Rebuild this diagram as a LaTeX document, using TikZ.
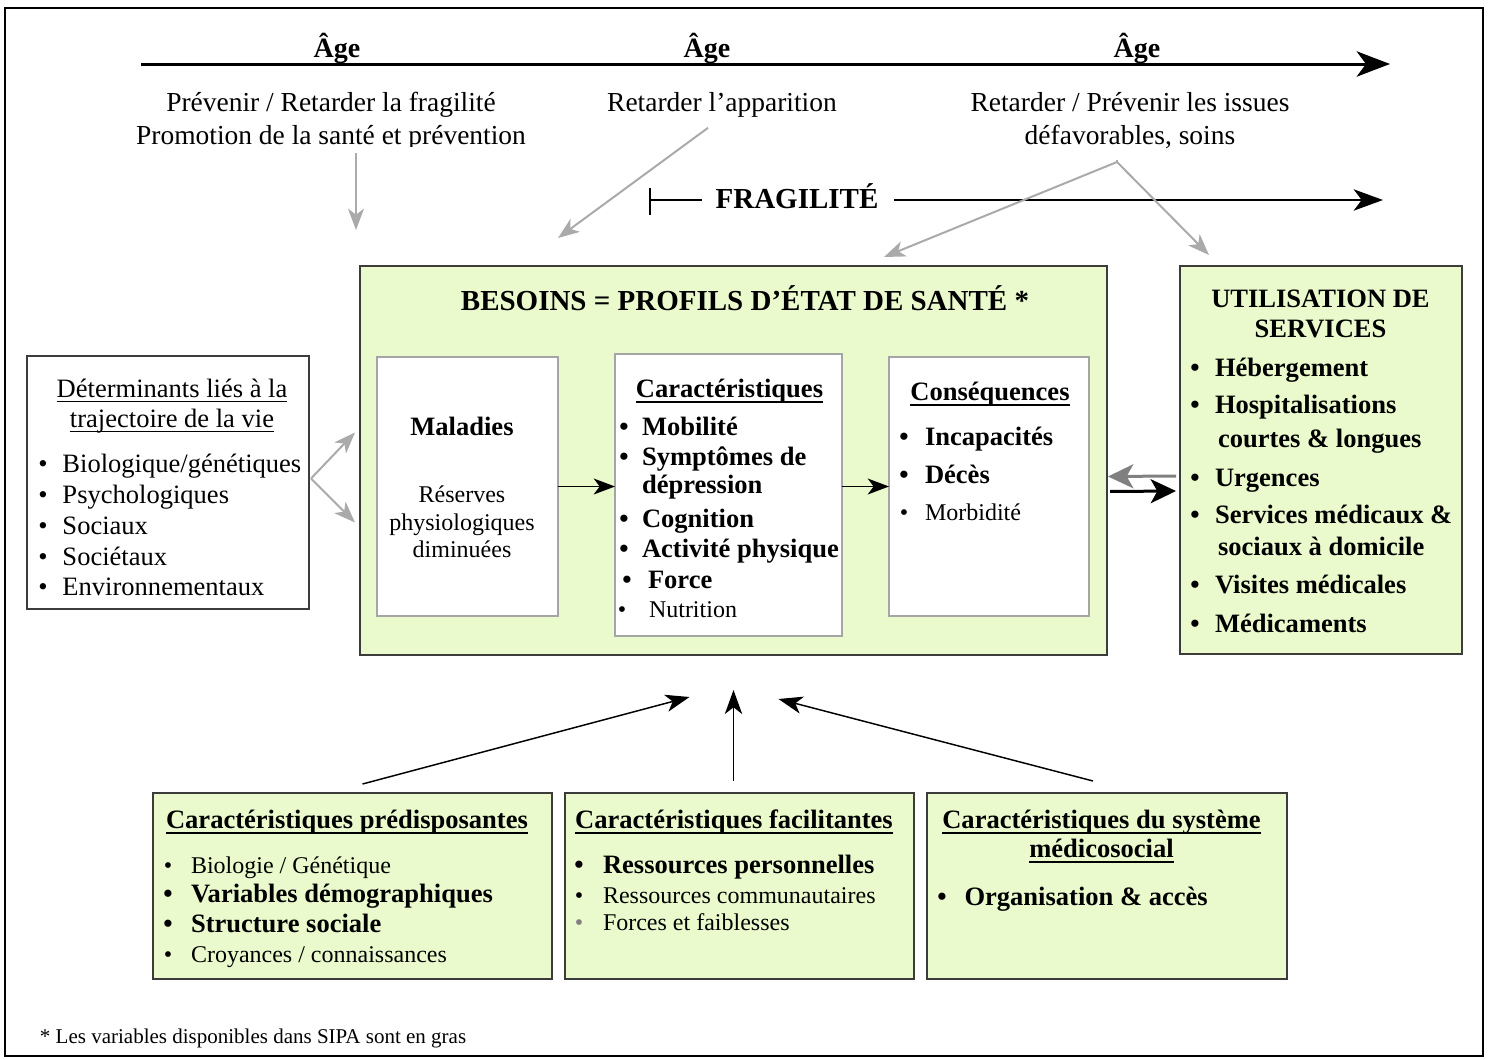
\documentclass[tikz,border=0pt]{standalone}
\usepackage{fontspec}
\setmainfont{Liberation Serif}
\usetikzlibrary{arrows.meta,calc,fit}
\definecolor{boxgreen}{RGB}{234,250,204}
\definecolor{edgegray}{RGB}{60,60,60}
\definecolor{linegray}{RGB}{170,170,170}
\definecolor{midgray}{RGB}{128,128,128}
\definecolor{innergray}{RGB}{165,165,165}
% underline: text box with a rule set below the baseline
\newcommand{\ulinebox}[2][1.4pt]{\setbox0\hbox{#2}\leavevmode
  \rlap{\vrule height -3.2pt depth \dimexpr3.2pt+#1\relax width \wd0}\box0}
\newcommand{\thinul}[1]{\ulinebox[0.8pt]{#1}}

\begin{document}
\begin{tikzpicture}[x=0.75pt,y=-0.75pt,
  every node/.style={inner sep=0pt,outer sep=0pt},
  frame/.style={draw=black,line width=1.1pt},
  greenbox/.style={draw=edgegray,fill=boxgreen,line width=1.1pt},
  whitebox/.style={draw=innergray,fill=white,line width=1.1pt},
  plainbox/.style={draw=edgegray,fill=white,line width=1.1pt},
  agefont/.style={font=\fontsize{21}{25}\selectfont\bfseries},
  lbl/.style={font=\fontsize{20.6}{24}\selectfont},
  ttl/.style={font=\fontsize{21.75}{26}\selectfont\bfseries},
  hb/.style={font=\fontsize{19.9}{24}\selectfont\bfseries},
  hr/.style={font=\fontsize{19.9}{24}\selectfont},
  sr/.style={font=\fontsize{18}{22}\selectfont},
  ft/.style={font=\fontsize{15.75}{19}\selectfont},
  bul/.style={anchor=base},
  txt/.style={anchor=base west},
  ctr/.style={anchor=base},
  agearrow/.style={line width=2.25pt,-{Stealth[length=25pt,width=19pt,inset=7pt]}},
  fragline/.style={line width=1.5pt},
  fragarrow/.style={line width=1.5pt,-{Stealth[length=22pt,width=16pt,inset=6pt]}},
  grayarrow/.style={draw=linegray,line width=1.5pt,-{Stealth[length=16pt,width=12pt,inset=4.5pt]}},
  blackarrow/.style={line width=1.1pt,-{Stealth[length=16pt,width=12pt,inset=4.5pt]}},
  uparrow/.style={line width=1.1pt,-{Stealth[length=18pt,width=13pt,inset=5pt]}},
  backarrow/.style={draw=midgray,line width=2.25pt,-{Stealth[length=19pt,width=18pt,inset=5pt]}},
  fwdarrow/.style={line width=2.25pt,-{Stealth[length=19pt,width=18pt,inset=5pt]}},
]
\useasboundingbox (0,0) rectangle (1490,1060);
\draw[frame] (5,8) rectangle (1483,1056);

% ---------- boxes ----------
\node[plainbox,fit={(27,356) (309,609)}] (det) {};
\node[greenbox,fit={(360,266) (1107,655)}] (main) {};
\node[whitebox,fit={(377,357) (558,616)}] (mal) {};
\node[whitebox,fit={(615,354) (842,636)}] (car) {};
\node[whitebox,fit={(889,357) (1089,616)}] (cons) {};
\node[greenbox,fit={(1180,266) (1462,654)}] (util) {};
\node[greenbox,fit={(153,793) (552,979)}] (pred) {};
\node[greenbox,fit={(565,793) (914,979)}] (fac) {};
\node[greenbox,fit={(927,793) (1287,979)}] (sys) {};

% ---------- age axis and labels ----------
\coordinate (agestart) at (141,64);
\coordinate (ageend) at (1390,64);
\draw[agearrow] (agestart) -- (ageend);
\node[agefont,ctr] (age1) at (337,57) {Âge};
\node[agefont,ctr] (age2) at (707,57) {Âge};
\node[agefont,ctr] (age3) at (1137,57) {Âge};

\node[lbl,ctr] (prev1) at (331,111) {Prévenir / Retarder la fragilité};
\begin{scope}
  \clip (100,118) rectangle (600,146);
  \node[lbl,ctr] (prev2) at (331,144) {Promotion de la santé et prévention};
\end{scope}
\node[lbl,ctr] (ret) at (722,111) {Retarder l’apparition};
\node[lbl,ctr] (iss1) at (1130,111) {Retarder / Prévenir les issues};
\node[lbl,ctr] (iss2) at (1130,144) {défavorables, soins};

% ---------- frailty line ----------
\node[ttl,ctr] (frag) at (797,208) {FRAGILITÉ};
\coordinate (fragbar) at (650,200);
\coordinate (fragend) at (1383,200);
\draw[fragline] (650,188) -- (650,215);
\draw[fragline] (fragbar) -- ($(fragbar -| frag.west)+(-14,0)$);
\draw[fragarrow] ($(fragbar -| frag.east)+(16,0)$) -- (fragend);

% ---------- intervention arrows ----------
\coordinate (p1e) at (356,230);
\coordinate (r1e) at (558,238);
\coordinate (fork) at (1117,162);
\coordinate (f1e) at (884,257);
\coordinate (f2e) at (1209,255);
\draw[grayarrow] ($(prev2.south -| p1e)+(0,3)$) -- (p1e);
\draw[grayarrow] ($(ret.south)+(-14,11)$) -- (r1e);
\draw[draw=linegray,line width=1.5pt] ($(iss2.south)+(-13,12)$) -- (fork);
\draw[grayarrow] (fork) -- (f1e);
\draw[grayarrow] (fork) -- (f2e);

% ---------- main box ----------
\node[ttl,ctr] (mtitle) at (745,310) {BESOINS = PROFILS D’ÉTAT DE SANTÉ *};

\node[hb,ctr] (maltitle) at (462,435) {Maladies};
\node[sr,ctr] (res1) at (462,502) {Réserves};
\node[sr,ctr] (res2) at (462,530) {physiologiques};
\node[sr,ctr] (res3) at (462,557) {diminuées};

\node[hb,ctr] (cartitle) at (729.5,397) {\ulinebox{Caractéristiques}};
\node[hb,bul] (cb1) at (624,435) {\textbullet}; \node[hb,txt] (ct1) at (642,435) {Mobilité};
\node[hb,bul] (cb2) at (624,465) {\textbullet}; \node[hb,txt] (ct2) at (642,465) {Symptômes de};
\node[hb,txt] (ct2b) at (642,493) {dépression};
\node[hb,bul] (cb3) at (624,527) {\textbullet}; \node[hb,txt] (ct3) at (642,527) {Cognition};
\node[hb,bul] (cb4) at (624,557) {\textbullet}; \node[hb,txt] (ct4) at (642,557) {Activité physique};
\node[hb,bul] (cb5) at (627,588) {\textbullet}; \node[hb,txt] (ct5) at (648,588) {Force};
\node[sr,bul] (cb6) at (622,617) {\textbullet}; \node[sr,txt] (ct6) at (649,617) {Nutrition};

\node[hb,ctr] (constitle) at (990,400) {\ulinebox{Conséquences}};
\node[hb,bul] (kb1) at (904,445) {\textbullet}; \node[hb,txt] (kt1) at (925,445) {Incapacités};
\node[hb,bul] (kb2) at (904,483) {\textbullet}; \node[hb,txt] (kt2) at (925,483) {Décès};
\node[sr,bul] (kb3) at (904,520) {\textbullet}; \node[sr,txt] (kt3) at (925,520) {Morbidité};

\draw[blackarrow] (mal.east) -- (mal.east -| car.west);
\draw[blackarrow] (cons.west -| car.east) -- (cons.west);

% ---------- life course determinants ----------
\node[hr,ctr] (dt1) at (172,397) {\thinul{Déterminants liés à la}};
\node[hr,ctr] (dt2) at (172,427) {\thinul{trajectoire de la vie}};
\node[hr,bul] (db1) at (43,472) {\textbullet}; \node[hr,txt] (dx1) at (62.5,472) {Biologique/génétiques};
\node[hr,bul] (db2) at (43,503) {\textbullet}; \node[hr,txt] (dx2) at (62.5,503) {Psychologiques};
\node[hr,bul] (db3) at (43,534) {\textbullet}; \node[hr,txt] (dx3) at (62.5,534) {Sociaux};
\node[hr,bul] (db4) at (43,565) {\textbullet}; \node[hr,txt] (dx4) at (62.5,565) {Sociétaux};
\node[hr,bul] (db5) at (43,595) {\textbullet}; \node[hr,txt] (dx5) at (62.5,595) {Environnementaux};

\draw[grayarrow] ($(det.east)+(2,-4)$) -- ($(main.west)+(-5,-28)$);
\draw[grayarrow] ($(det.east)+(2,-4)$) -- ($(main.west)+(-5,62)$);

% ---------- service use ----------
\node[hb,ctr] (ut1) at (1320.5,307) {UTILISATION DE};
\node[hb,ctr] (ut2) at (1320.5,337) {SERVICES};
\node[hb,bul] (ub1) at (1195,376) {\textbullet}; \node[hb,txt] (ux1) at (1215,376) {Hébergement};
\node[hb,bul] (ub2) at (1195,413) {\textbullet}; \node[hb,txt] (ux2) at (1215,413) {Hospitalisations};
\node[hb,txt] (ux2b) at (1218,447) {courtes \& longues};
\node[hb,bul] (ub3) at (1195,486) {\textbullet}; \node[hb,txt] (ux3) at (1215,486) {Urgences};
\node[hb,bul] (ub4) at (1195,523) {\textbullet}; \node[hb,txt] (ux4) at (1215,523) {Services médicaux \&};
\node[hb,txt] (ux4b) at (1218,555) {sociaux à domicile};
\node[hb,bul] (ub5) at (1195,593) {\textbullet}; \node[hb,txt] (ux5) at (1215,593) {Visites médicales};
\node[hb,bul] (ub6) at (1195,632) {\textbullet}; \node[hb,txt] (ux6) at (1215,632) {Médicaments};

\draw[backarrow] ($(util.west)+(-4,16)$) -- ($(main.east)+(1,16)$);
\draw[fwdarrow] ($(main.east)+(3,31)$) -- ($(util.west)+(-4,31)$);

% ---------- bottom characteristics ----------
\node[hb,ctr] (pt) at (347,828) {\ulinebox{Caractéristiques prédisposantes}};
\node[sr,bul] (pb1) at (168,873) {\textbullet}; \node[sr,txt] (px1) at (191,873) {Biologie / Génétique};
\node[hb,bul] (pb2) at (168,902) {\textbullet}; \node[hb,txt] (px2) at (191,902) {Variables démographiques};
\node[hb,bul] (pb3) at (168,932) {\textbullet}; \node[hb,txt] (px3) at (191,932) {Structure sociale};
\node[sr,bul] (pb4) at (168,962) {\textbullet}; \node[sr,txt] (px4) at (191,962) {Croyances / connaissances};

\node[hb,ctr] (ftl) at (734,828) {\ulinebox{Caractéristiques facilitantes}};
\node[hb,bul] (fb1) at (579,873) {\textbullet}; \node[hb,txt] (fx1) at (603,873) {Ressources personnelles};
\node[sr,bul] (fb2) at (579,903) {\textbullet}; \node[sr,txt] (fx2) at (603,903) {Ressources communautaires};
\node[sr,bul,text=midgray] (fb3) at (579,930) {\textbullet}; \node[sr,txt] (fx3) at (603,930) {Forces et faiblesses};

\node[hb,ctr] (st1) at (1101.5,828) {\ulinebox{Caractéristiques du système}};
\node[hb,ctr] (st2) at (1101.5,857) {\ulinebox{médicosocial}};
\node[hb,bul] (sb1) at (942,905) {\textbullet}; \node[hb,txt] (sx1) at (964.5,905) {Organisation \& accès};

\draw[uparrow] ($(pred.north)+(10,-9)$) -- ($(main.south)+(-44,42)$);
\draw[uparrow] ($(fac.north)+(-6,-12)$) -- ($(main.south)+(0,35)$);
\draw[uparrow] ($(sys.north)+(-14,-12)$) -- ($(main.south)+(45,44)$);

% ---------- footnote ----------
\node[ft,txt] (foot) at (40,1043) {* Les variables disponibles dans SIPA sont en gras};
\end{tikzpicture}
\end{document}
